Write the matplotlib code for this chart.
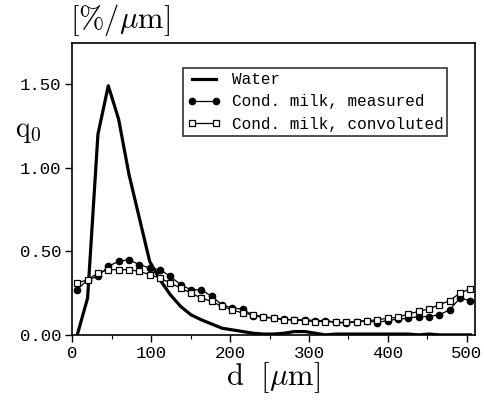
import numpy as np
import matplotlib
matplotlib.use("Agg")
import matplotlib.pyplot as plt

# size classes (um)
d = [6.5 + 13.1 * i for i in range(39)]

water = [0.0, 0.22, 1.20, 1.49, 1.29, 0.96, 0.70, 0.44, 0.33, 0.24,
         0.17, 0.12, 0.09, 0.065, 0.04, 0.03, 0.02, 0.01, 0.005, 0.005,
         0.01, 0.02, 0.02, 0.01, 0.0, 0.005, 0.005, 0.005, 0.005, 0.005,
         0.005, 0.005, 0.005, 0.0, 0.005, 0.0, 0.0, 0.0, 0.0]

measured = [0.27, 0.33, 0.35, 0.41, 0.44, 0.45, 0.42, 0.40, 0.39, 0.35,
            0.30, 0.27, 0.27, 0.23, 0.18, 0.16, 0.155, 0.115, 0.105, 0.10,
            0.094, 0.09, 0.09, 0.086, 0.086, 0.076, 0.07, 0.08, 0.086, 0.074,
            0.086, 0.094, 0.10, 0.11, 0.11, 0.12, 0.15, 0.22, 0.205]

convoluted = [0.31, 0.33, 0.37, 0.39, 0.39, 0.39, 0.38, 0.36, 0.34, 0.31,
              0.28, 0.25, 0.22, 0.20, 0.17, 0.15, 0.13, 0.12, 0.11, 0.10,
              0.09, 0.09, 0.085, 0.08, 0.08, 0.075, 0.075, 0.08, 0.085, 0.09,
              0.10, 0.105, 0.125, 0.14, 0.155, 0.18, 0.205, 0.25, 0.275]

xticks = [0, 100, 200, 300, 400, 500]
yticks = [0.0, 0.5, 1.0, 1.5]

plt.rcParams['mathtext.fontset'] = 'cm'
tickfont = {'family': 'Liberation Mono', 'size': 12.5}

fig = plt.figure(figsize=(4.84, 4.03), dpi=100)
ax = fig.add_axes([0.149, 0.169, 0.832, 0.724])

ax.plot(d, water, color='black', lw=2.3, label='Water')
ax.plot(d, measured, color='black', lw=0.9, marker='o', ms=4.5,
        label='Cond. milk, measured')
ax.plot(d, convoluted, color='black', lw=0.9, marker='s', ms=4,
        mfc='white', mew=0.9, label='Cond. milk, convoluted')

ax.set_xlim(0, 510)
ax.set_ylim(0, 1.745)
ax.set_xticks(xticks)
ax.set_xticks([50, 150, 250, 350, 450], minor=True)
ax.set_yticks(yticks)
ax.set_xticklabels([str(t) for t in xticks], fontdict=tickfont)
ax.set_yticklabels(['%.2f' % t for t in yticks], fontdict=tickfont)
ax.tick_params(direction='out', length=5, width=1, pad=3)
ax.tick_params(which='minor', direction='out', length=3, width=0.8)
for s in ax.spines.values():
    s.set_linewidth(1.2)

fig.text(0.565, 0.02, r'$\mathrm{d}\ \ [\mu\mathrm{m}]$', fontsize=22,
         ha='center', va='bottom')
fig.text(0.145, 0.905, r'$[\%/\mu\mathrm{m}]$', fontsize=22,
         ha='left', va='bottom')
fig.text(0.03, 0.675, r'$\mathrm{q}_0$', fontsize=20, ha='left',
         va='center')

leg = ax.legend(loc='upper left', bbox_to_anchor=(0.275, 0.914),
                prop={'family': 'Liberation Mono', 'size': 11.5},
                frameon=True, fancybox=False, edgecolor='black',
                borderpad=0.25, handlelength=2.1, handletextpad=0.7,
                labelspacing=0.45, borderaxespad=0, numpoints=2)
leg.get_frame().set_linewidth(1.2)

fig.savefig('out.png', dpi=100)
